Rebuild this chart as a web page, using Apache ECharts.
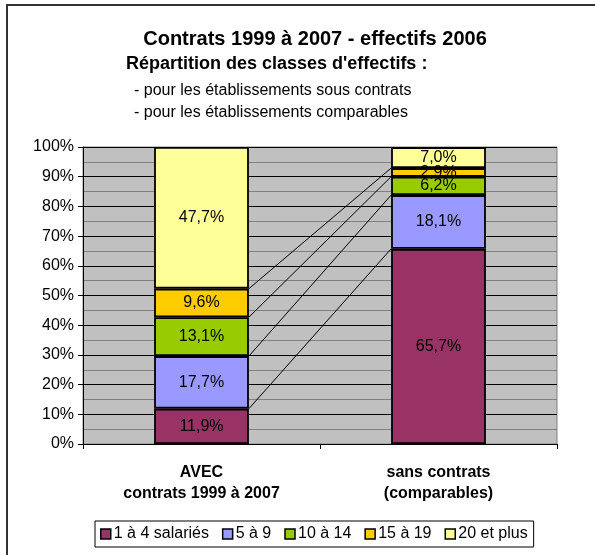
<!DOCTYPE html>
<html>
<head>
<meta charset="utf-8">
<script src="https://cdn.jsdelivr.net/npm/echarts@6/dist/echarts.min.js"></script>
<style>
  html, body { margin: 0; padding: 0; background: #fff; }
  #chart { width: 595px; height: 555px; }
</style>
</head>
<body>
<div id="chart"></div>
<script>
// données
var categories = ['AVEC\ncontrats 1999 à 2007', 'sans contrats\n(comparables)'];
var classes = ['1 à 4 salariés', '5 à 9', '10 à 14', '15 à 19', '20 et plus'];
var avec = [11.9, 17.7, 13.1, 9.6, 47.7];
var sans = [65.7, 18.1, 6.2, 2.9, 7.0];
var colors = ['#993366', '#9999FF', '#99CC00', '#FFCC00', '#FFFF99'];
var yTicks = [0, 10, 20, 30, 40, 50, 60, 70, 80, 90, 100];

var FONT = '"Liberation Sans", Arial, sans-serif';
var BAR_RATIO = 0.4;

function fmt(v) {
    return v.toFixed(1).replace('.', ',') + '%';
}

// séries empilées
var barSeries = classes.map(function (name, i) {
    return {
        name: name,
        type: 'bar',
        stack: 'total',
        barWidth: (BAR_RATIO * 100) + '%',
        data: [avec[i], sans[i]],
        itemStyle: { color: colors[i], borderColor: '#000', borderWidth: 1.8 },
        label: {
            show: true,
            position: 'inside',
            color: '#000',
            fontFamily: FONT,
            fontSize: 16,
            formatter: function (p) { return fmt(p.value); }
        },
        emphasis: { disabled: true }
    };
});

// lignes de liaison entre les bornes cumulées
var links = [];
var c1 = 0, c2 = 0;
for (var i = 0; i < classes.length - 1; i++) {
    c1 += avec[i];
    c2 += sans[i];
    links.push([0, c1, 1, c2]);
}

var linkSeries = {
    type: 'custom',
    name: 'liens',
    silent: true,
    encode: { x: [0, 2], y: [1, 3] },
    data: links,
    z: 1,
    renderItem: function (params, api) {
        var half = api.size([1, 0])[0] * BAR_RATIO / 2;
        var p1 = api.coord([api.value(0), api.value(1)]);
        var p2 = api.coord([api.value(2), api.value(3)]);
        return {
            type: 'line',
            shape: { x1: p1[0] + half, y1: p1[1], x2: p2[0] - half, y2: p2[1] },
            style: { stroke: '#000', lineWidth: 1 }
        };
    }
};

var chart = echarts.init(document.getElementById('chart'), null, { renderer: 'canvas' });

chart.setOption({
    backgroundColor: '#fff',
    animation: false,
    textStyle: { fontFamily: FONT },
    title: [
        {
            text: 'Contrats 1999 à 2007 - effectifs 2006',
            left: 310, top: 24, textAlign: 'center',
            textStyle: { fontSize: 20, fontWeight: 'bold', color: '#000', fontFamily: FONT }
        },
        {
            text: "Répartition des classes d'effectifs :",
            left: 121, top: 50,
            textStyle: { fontSize: 18, fontWeight: 'bold', color: '#000', fontFamily: FONT }
        },
        {
            text: '- pour les établissements sous contrats\n- pour les établissements comparables',
            left: 129, top: 75,
            textStyle: { fontSize: 16, fontWeight: 'normal', color: '#000', fontFamily: FONT, lineHeight: 22 }
        }
    ],
    graphic: [{
        type: 'rect',
        shape: { x: 7, y: 5, width: 620, height: 620 },
        style: { fill: null, stroke: '#333', lineWidth: 2 },
        silent: true
    }],
    legend: {
        data: classes,
        left: 95, top: 521,
        padding: [5, 6, 5, 5],
        itemWidth: 10, itemHeight: 10,
        itemGap: 13,
        icon: 'rect',
        borderColor: '#000', borderWidth: 1,
        backgroundColor: '#fff',
        selectedMode: false,
        itemStyle: { borderColor: '#000', borderWidth: 1.5 },
        textStyle: { fontSize: 16, color: '#000', fontFamily: FONT, padding: [0, 0, 0, -2] }
    },
    grid: {
        left: 83, right: 38, top: 147, bottom: 111,
        show: true,
        backgroundColor: '#C0C0C0',
        borderColor: '#808080',
        borderWidth: 1
    },
    xAxis: {
        type: 'category',
        data: categories,
        axisLine: { lineStyle: { color: '#000', width: 1 } },
        axisTick: { show: true, alignWithLabel: false, length: 5, lineStyle: { color: '#000' } },
        axisLabel: {
            margin: 18,
            color: '#000',
            fontWeight: 'bold',
            fontSize: 16,
            lineHeight: 21,
            fontFamily: FONT
        },
        splitLine: { show: false }
    },
    yAxis: {
        type: 'value',
        min: yTicks[0], max: yTicks[yTicks.length - 1], interval: 10,
        axisLine: { show: true, lineStyle: { color: '#000' } },
        axisTick: { show: true, length: 5, lineStyle: { color: '#000' } },
        axisLabel: {
            margin: 9,
            color: '#000',
            fontSize: 16,
            fontFamily: FONT,
            formatter: '{value}%'
        },
        splitLine: { show: true, lineStyle: { color: '#000', width: 1 } },
        minorTick: { show: false, splitNumber: 2 },
        minorSplitLine: { show: true, lineStyle: { color: '#808080', width: 1 } }
    },
    series: barSeries.concat([linkSeries])
});
</script>
</body>
</html>
